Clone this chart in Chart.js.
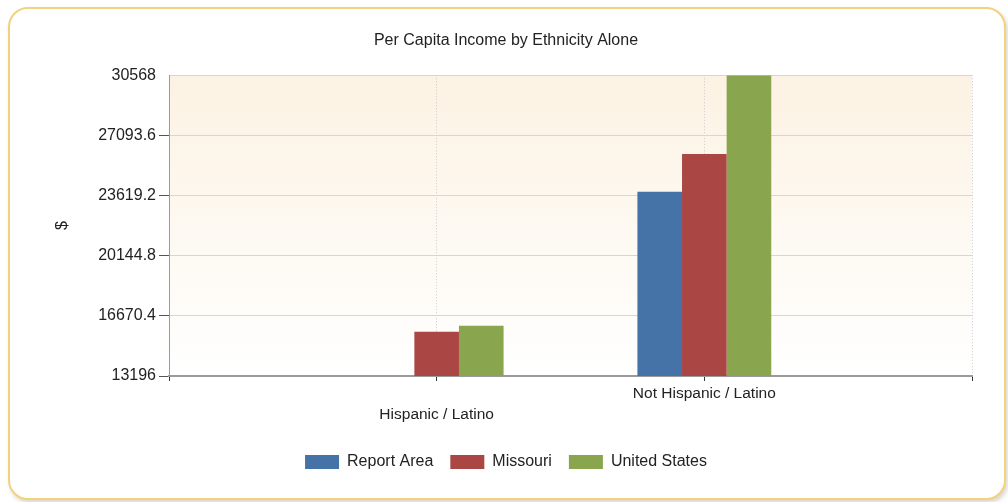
<!DOCTYPE html>
<html>
<head>
<meta charset="utf-8">
<script src="https://cdn.jsdelivr.net/npm/chart.js@4"></script>
<style>
    body { margin: 0; background: #fff; }
    #frame {
        position: absolute; left: 8px; top: 7px; width: 994px; height: 489px;
        border: 2px solid #f1d27e; border-radius: 20px;
        box-shadow: 2px 3px 4px rgba(120, 100, 60, 0.25);
        background: #fff;
    }
    #wrap { position: absolute; left: 0; top: 0; width: 1008px; height: 502px; }
</style>
</head>
<body>
<div id="frame"></div>
<div id="wrap"><canvas id="chart" width="1008" height="502"></canvas></div>
<script>
const categories = ['Hispanic / Latino', 'Not Hispanic / Latino'];
const reportArea = [null, 23830];
const missouri = [15750, 26020];
const unitedStates = [16100, 30568];
const yTicks = [13196, 16670.4, 20144.8, 23619.2, 27093.6, 30568];

const FONT = '"Liberation Sans", Arial, sans-serif';

// empty slots at both ends so the categories sit on the grid lines like the original
const labels = ['', ['', categories[0]], categories[1], ''];
const pad = arr => [null, ...arr, null];

const plotBackground = {
    id: 'plotBackground',
    beforeDraw(chart) {
        const { ctx, chartArea: a } = chart;
        const g = ctx.createLinearGradient(0, a.top, 0, a.bottom);
        g.addColorStop(0, '#fcf2e3');
        g.addColorStop(1, '#ffffff');
        ctx.save();
        ctx.fillStyle = g;
        ctx.fillRect(a.left, a.top, a.right - a.left, a.bottom - a.top);
        ctx.restore();
    }
};

new Chart(document.getElementById('chart'), {
    type: 'bar',
    data: {
        labels: labels,
        datasets: [
            { label: 'Report Area', data: pad(reportArea), backgroundColor: '#4572a7' },
            { label: 'Missouri', data: pad(missouri), backgroundColor: '#aa4643' },
            { label: 'United States', data: pad(unitedStates), backgroundColor: '#89a54e' }
        ]
    },
    options: {
        responsive: false,
        animation: false,
        categoryPercentage: 0.5,
        barPercentage: 1,
        layout: { padding: { left: 40, right: 36, top: 0, bottom: 22 } },
        plugins: {
            title: {
                display: true,
                text: 'Per Capita Income by Ethnicity Alone',
                color: '#222',
                font: { family: FONT, size: 16, weight: 'normal' },
                padding: { top: 31, bottom: 25 }
            },
            legend: {
                position: 'bottom',
                labels: {
                    color: '#222',
                    font: { family: FONT, size: 16 },
                    boxWidth: 34,
                    boxHeight: 14,
                    padding: 17
                }
            },
            tooltip: { enabled: false }
        },
        scales: {
            x: {
                offset: false,
                grid: {
                    offset: false,
                    color: '#cccccc',
                    tickLength: 5,
                    tickColor: '#333',
                    tickBorderDash: []
                },
                border: { color: '#9a9a9a', width: 2, dash: [1, 2] },
                ticks: {
                    color: '#222',
                    font: { family: FONT, size: 15.5, lineHeight: 1.3 },
                    padding: 3,
                    maxRotation: 0,
                    autoSkip: false
                },
                afterFit(scale) { scale.height = 61; }
            },
            y: {
                min: 13196,
                max: 30568,
                afterBuildTicks(axis) { axis.ticks = yTicks.map(v => ({ value: v })); },
                grid: {
                    color: '#d6d6d6',
                    tickLength: 10,
                    tickColor: ctx => ctx.index === yTicks.length - 1 ? 'rgba(0,0,0,0)' : '#555'
                },
                border: { color: '#9a9a9a', width: 1 },
                ticks: {
                    color: '#222',
                    font: { family: FONT, size: 16 },
                    padding: 3,
                    callback: v => String(v)
                },
                title: {
                    display: true,
                    text: '$',
                    color: '#222',
                    font: { family: FONT, size: 16 },
                    padding: { top: 13, bottom: 0 }
                },
                afterFit(scale) { scale.width = 129; }
            }
        }
    },
    plugins: [plotBackground]
});
</script>
</body>
</html>
